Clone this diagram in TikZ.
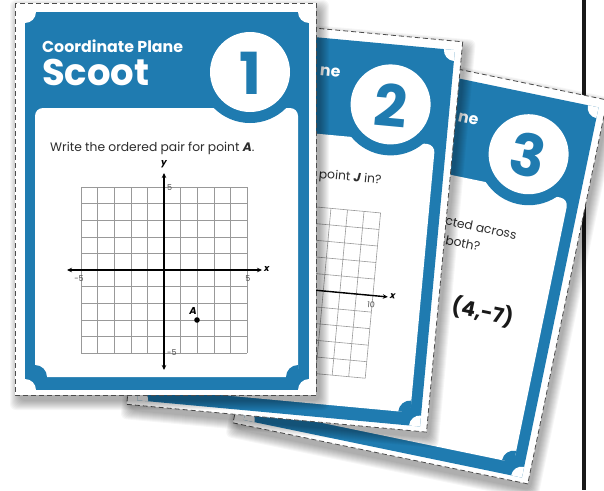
\documentclass[tikz,border=0pt]{standalone}
\usepackage{fontspec}
\setmainfont{Poppins}
\usetikzlibrary{arrows.meta}
\definecolor{cardblue}{RGB}{31,123,176}
\definecolor{txt}{RGB}{45,45,45}

\newcommand\cardbase[2]{%
  \foreach \k in {0,...,9}{\fill[black,opacity=0.035,rounded corners=6pt] ({4-\k},{6-\k}) rectangle ({305+\k},{398+\k});}
  \fill[white] (0,0) rectangle (301,392);
  \draw[dashborder] (0,0) rectangle (301,392);
  \fill[cardblue] (10,9) rectangle (294,387);
  \begin{scope}
    \clip (10,9) rectangle (294,387);
    \fill[white] (10,9) circle (11) (294,9) circle (11) (10,387) circle (11) (294,387) circle (11);
  \end{scope}
  \fill[white, rounded corners=8pt] (20,105) rectangle (283,374);
  \begin{scope}
    \clip (20,105) rectangle (283,374);
    \fill[cardblue] (20,374) circle (12) (283,374) circle (12);
  \end{scope}
  \fill[cardblue] (235,69) circle (51);
  \fill[white] (235,69) circle (40);
  \node[numtext] (#2num) at (235,70) {#1};
}
\newcommand\gridat[3]{%
  \foreach \i in {0,...,10}{%
    \draw[gridline] ({#1+\i*#3},#2) -- ({#1+\i*#3},{#2+10*#3});
    \draw[gridline] (#1,{#2+\i*#3}) -- ({#1+10*#3},{#2+\i*#3});
  }
}

\begin{document}
\begin{tikzpicture}[x=1pt,y=-1pt,
  dashborder/.style={draw=black!70, line width=0.8pt, dash pattern=on 5pt off 3pt},
  gridline/.style={draw=black!40, line width=0.6pt},
  axisline/.style={draw=black, line width=1.4pt, {Stealth[length=5pt,width=4.5pt]}-{Stealth[length=5pt,width=4.5pt]}},
  hdr/.style={text=white, font=\bfseries\fontsize{15.8}{16}\selectfont, anchor=base west, inner sep=0pt},
  big/.style={text=white, font=\bfseries\fontsize{37}{37}\selectfont, anchor=base west, inner sep=0pt},
  numtext/.style={text=cardblue, font=\bfseries\fontsize{58}{58}\selectfont, inner sep=0pt},
  qtext/.style={text=txt, font=\fontsize{12.3}{14}\selectfont, anchor=base west, inner sep=0pt},
  ticklbl/.style={text=black!70, font=\fontsize{8}{8}\selectfont, inner sep=0pt},
  axlbl/.style={text=black, font=\bfseries\itshape\fontsize{9}{9}\selectfont, inner sep=0pt},
  ans/.style={text=black!90, font=\bfseries\fontsize{20.5}{21}\selectfont, inner sep=0pt},
]
\useasboundingbox (0,0) rectangle (604,490);
\fill[white] (0,0) rectangle (604,490);
\coordinate (lt) at (584,0);
\coordinate (lb) at (584,490);
\draw[line width=3.5pt, black!90] (lt) -- (lb);

% card 3
\begin{scope}[shift={(312.5,39)}, rotate=-11.7, transform shape]
  \cardbase{3}{c}
  \node[hdr] (cne) at (158.5,51.5) {ne};
  \node[qtext] (cq1) at (167,155) {cted across};
  \node[qtext] (cq2) at (171,174) {both?};
  \node[ans] (cans) at (222,233) {(4,-7)};
\end{scope}

% card 2
\begin{scope}[shift={(163,14)}, rotate=-5.3, transform shape]
  \cardbase{2}{b}
  \node[hdr] (bne) at (161.5,47) {ne};
  \node[qtext] (bq) at (170,149) {point \textbf{\textit{J}} in?};
  \gridat{69}{178}{16.6}
  \coordinate (bxl) at (55,261);
  \coordinate (bxr) at (250,261);
  \coordinate (byt) at (152,164);
  \coordinate (byb) at (152,361);
  \draw[axisline] (bxl) -- (bxr);
  \draw[axisline] (byt) -- (byb);
  \node[ticklbl] (b10) at (234,270) {10};
  \node[axlbl, anchor=west] (bx) at (252,260) {x};
\end{scope}

% card 1
\begin{scope}[shift={(15,3)}]
  \cardbase{1}{a}
  \node[hdr] (ahdr1) at (27,49) {Coordinate Plane};
  \node[big] (ahdr2) at (27,82) {Scoot};
  \node[qtext] (aq) at (35,148) {Write the ordered pair for point \textbf{\textit{A}}.};
  \gridat{66}{184}{16.6}
  \coordinate (axl) at (52,267);
  \coordinate (axr) at (247,267);
  \coordinate (ayt) at (149,170);
  \coordinate (ayb) at (149,367);
  \draw[axisline] (axl) -- (axr);
  \draw[axisline] (ayt) -- (ayb);
  \node[axlbl] (ay) at (149,161) {y};
  \node[axlbl, anchor=west] (ax) at (249,266) {x};
  \node[ticklbl, anchor=west] (at1) at (152,185) {5};
  \node[ticklbl] (at2) at (64,276) {-5};
  \node[ticklbl] (at3) at (233,276) {5};
  \node[ticklbl, anchor=west] (at4) at (152,350) {-5};
  \fill[black] (182,317) circle (2.8);
  \node[axlbl, font=\bfseries\itshape\fontsize{10}{10}\selectfont] (aA) at (178,308) {A};
\end{scope}
\end{tikzpicture}
\end{document}
